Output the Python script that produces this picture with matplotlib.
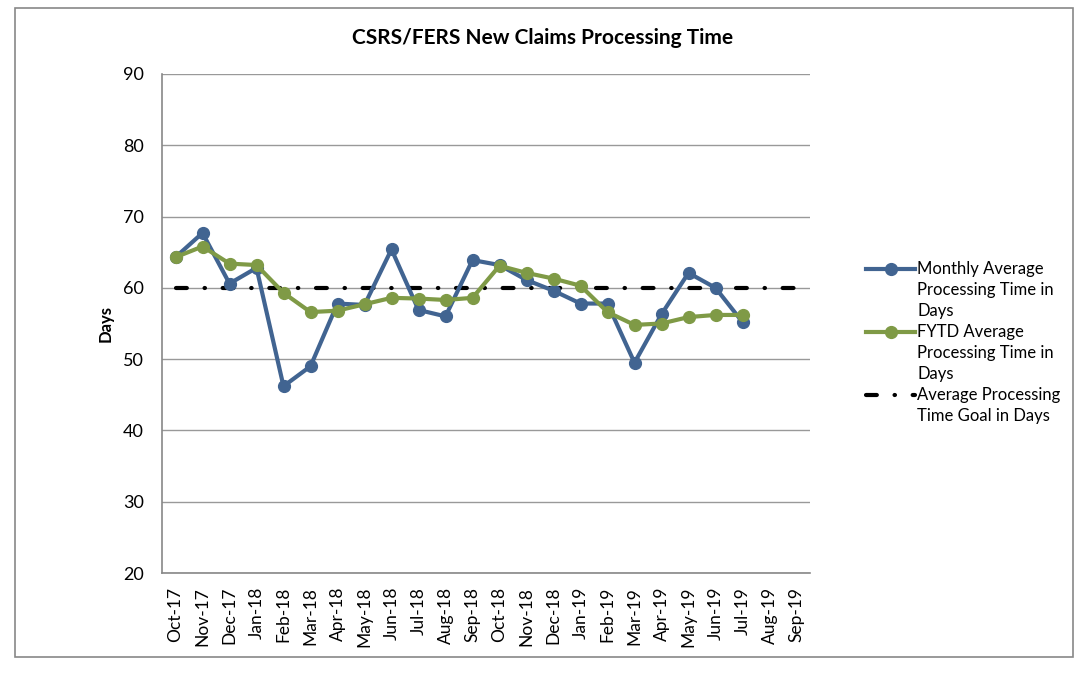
import matplotlib
matplotlib.use("Agg")
import matplotlib.pyplot as plt
from matplotlib.patches import Rectangle
from matplotlib.lines import Line2D

months = ["Oct-17", "Nov-17", "Dec-17", "Jan-18", "Feb-18", "Mar-18", "Apr-18", "May-18",
          "Jun-18", "Jul-18", "Aug-18", "Sep-18", "Oct-18", "Nov-18", "Dec-18", "Jan-19",
          "Feb-19", "Mar-19", "Apr-19", "May-19", "Jun-19", "Jul-19", "Aug-19", "Sep-19"]
monthly = [64.3, 67.7, 60.6, 62.8, 46.2, 49.0, 57.8, 57.6, 65.4, 56.9, 56.0, 63.9,
           63.2, 61.1, 59.6, 57.8, 57.8, 49.5, 56.3, 62.1, 60.0, 55.2]
fytd = [64.3, 65.8, 63.4, 63.2, 59.3, 56.6, 56.8, 57.7, 58.6, 58.5, 58.3, 58.6,
        63.1, 62.1, 61.3, 60.3, 56.6, 54.8, 55.0, 55.9, 56.2, 56.2]
goal = [60] * 24
legend_lines = [["Monthly Average", "Processing Time in", "Days"],
                ["FYTD Average", "Processing Time in", "Days"],
                ["Average Processing", "Time Goal in Days"]]

blue = "#416491"
green = "#7F9A46"
plt.rcParams['font.family'] = ["Lato", 'DejaVu Sans']

fig = plt.figure(figsize=(10.9, 6.74), dpi=100)
ax = fig.add_axes([162/1090, 1-573/674, (810-162)/1090, (573-74)/674])

x_all = list(range(len(months)))
l3, = ax.plot(x_all, goal, color="black", lw=3, linestyle=(0, (2.6, 4.25, 0.1, 4.25)),
              dash_capstyle="round", zorder=2)
l1, = ax.plot(range(len(monthly)), monthly, color=blue, lw=3, marker="o", markersize=8.5, zorder=3)
l2, = ax.plot(range(len(fytd)), fytd, color=green, lw=3, marker="o", markersize=8.5, zorder=4)

ax.set_xlim(-0.5, len(months) - 0.5)
ax.set_ylim(20, 90)
ax.set_yticks(range(20, 91, 10))
ax.set_xticks(x_all)
ax.set_xticklabels(months, rotation=90, fontsize=12.5)
ax.tick_params(axis="y", labelsize=13, length=0, pad=13)
ax.tick_params(axis="x", length=0, pad=10)
ax.grid(axis="y", color="#999999", lw=1)
ax.set_axisbelow(True)
for s in ["top", "right"]:
    ax.spines[s].set_visible(False)
for s in ["left", "bottom"]:
    ax.spines[s].set_color("#888888")
    ax.spines[s].set_linewidth(1.2)
ax.set_ylabel("Days", fontsize=12, fontweight="bold", labelpad=7)

fig.text(543/1090, 1-38/674, "CSRS/FERS New Claims Processing Time", ha="center", va="center",
         fontsize=15, fontweight="bold")

blank = Line2D([], [], linestyle="none")
handles, labels = [], []
for h, lines in zip([l1, l2, l3], legend_lines):
    for i, t in enumerate(lines):
        handles.append(h if i == 0 else blank)
        labels.append(t)
leg = fig.legend(handles, labels, loc="upper left",
                 bbox_to_anchor=(858/1090, 1-253/674), frameon=False, fontsize=12,
                 handlelength=2.9, handletextpad=0.15, labelspacing=0.30, borderpad=0)

fig.patches.append(Rectangle((15/1090, 1-657/674), (1073-15)/1090, (657-8)/674,
                             transform=fig.transFigure, fill=False, edgecolor="#888888", lw=1.2))

fig.savefig("out.png", dpi=100)
